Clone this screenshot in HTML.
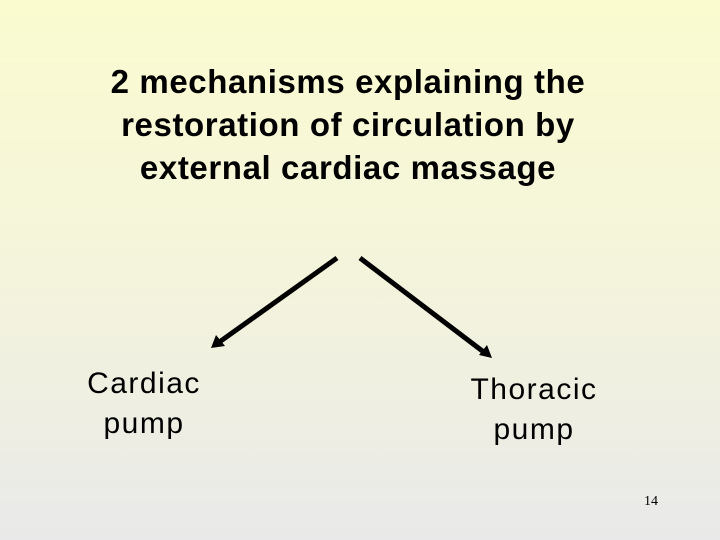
<!DOCTYPE html>
<html><head><meta charset="utf-8"><style>
html,body{margin:0;padding:0}
body{width:720px;height:540px;position:relative;overflow:hidden;background:linear-gradient(#fbfbd0 0%,#f4f4dc 50%,#e9e9e9 100%);font-family:"Liberation Sans",Arial,sans-serif}
.t{position:absolute;left:0;width:696px;top:60px;text-align:center;font-weight:bold;font-size:33px;letter-spacing:0.6px;line-height:43px;color:#000}
.l{position:absolute;font-size:30px;letter-spacing:1.5px;line-height:40px;text-align:center;color:#000}
.n{position:absolute;left:644px;top:494px;font-family:"Liberation Serif",serif;font-size:14px}
</style></head><body>
<div class="t">2 mechanisms explaining the<br>restoration of circulation by<br>external cardiac massage</div>
<svg width="720" height="540" style="position:absolute;left:0;top:0">
<line x1="337" y1="258" x2="218" y2="343" stroke="#000" stroke-width="5"/>
<path d="M211,348 L216,335 L225,346 Z" fill="#000"/>
<line x1="360" y1="258" x2="485" y2="353" stroke="#000" stroke-width="5"/>
<path d="M492,358 L479,355 L487,345 Z" fill="#000"/>
</svg>
<div class="l" style="left:64px;top:364px;width:160px">Cardiac<br>pump</div>
<div class="l" style="left:454px;top:370px;width:160px">Thoracic<br>pump</div>
<div class="n">14</div>
</body></html>
